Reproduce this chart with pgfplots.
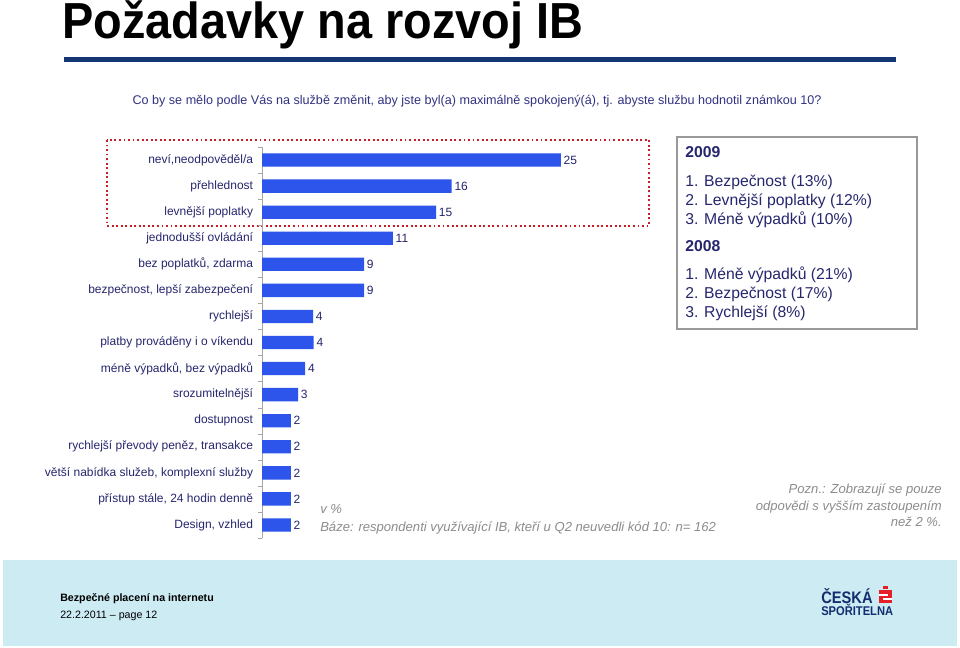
\documentclass[border=0pt]{standalone}
\usepackage{pgfplots}
\usepackage{pgfplotstable}
\pgfplotsset{compat=1.18}
\usepackage{fontspec}
\setmainfont{Liberation Sans}
\definecolor{navy}{RGB}{38,38,110}
\definecolor{subcol}{RGB}{50,50,130}
\definecolor{barblue}{RGB}{45,85,235}
\definecolor{rulecol}{RGB}{20,55,115}
\definecolor{footbg}{RGB}{204,235,243}
\definecolor{redbox}{RGB}{200,30,40}
\definecolor{logonavy}{RGB}{20,45,110}
\definecolor{logored}{RGB}{230,30,40}
\definecolor{notegray}{RGB}{140,140,140}

\pgfplotstableread{
y x lab
0 24.9 25
1 15.8 16
2 14.5 15
3 10.9 11
4 8.5 9
5 8.5 9
6 4.25 4
7 4.3 4
8 3.6 4
9 3.0 3
10 2.4 2
11 2.4 2
12 2.4 2
13 2.4 2
14 2.4 2
}\datatable

\begin{document}
\begin{tikzpicture}
\begin{scope}[x=0.75pt,y=-0.75pt]
\useasboundingbox (0,0) rectangle (960,648);
\fill[white] (0,0) rectangle (960,648);
% title
\node[anchor=base west, inner sep=0, font=\fontsize{38}{44}\selectfont\bfseries] at (62,39) {\scalebox{0.925}[1]{Požadavky na rozvoj IB}};
\fill[rulecol] (64,57) rectangle (896,62);
\node[anchor=base, inner sep=0, text=subcol, font=\fontsize{9.45}{11}\selectfont] at (477,105) {Co by se mělo podle Vás na službě změnit, aby jste byl(a) maximálně spokojený(á), tj. abyste službu hodnotil známkou 10?};
% red dotted box
\draw[redbox, line width=1.4pt, dotted] (107,140) rectangle (649,226);
% legend box
\draw[gray!80, line width=0.8pt] (677,137) rectangle (917,329);
\begin{scope}[every node/.style={anchor=base west, inner sep=0, text=navy, font=\fontsize{11.8}{14}\selectfont}]
\node[font=\fontsize{11.8}{14}\selectfont\bfseries] at (685,158) {2009};
\node at (685,187) {1. Bezpečnost (13\%)};
\node at (685,206) {2. Levnější poplatky (12\%)};
\node at (685,225) {3. Méně výpadků (10\%)};
\node[font=\fontsize{11.8}{14}\selectfont\bfseries] at (685,252) {2008};
\node at (685,280) {1. Méně výpadků (21\%)};
\node at (685,299) {2. Bezpečnost (17\%)};
\node at (685,318) {3. Rychlejší (8\%)};
\end{scope}
% notes
\begin{scope}[every node/.style={inner sep=0, text=notegray, font=\fontsize{9.8}{11}\selectfont\itshape}]
\node[anchor=base west] at (320,513) {v \%};
\node[anchor=base west] at (320,531) {Báze: respondenti využívající IB, kteří u Q2 neuvedli kód 10: n= 162};
\node[anchor=base east] at (942,493) {Pozn.: Zobrazují se pouze};
\node[anchor=base east] at (942,510) {odpovědi s vyšším zastoupením};
\node[anchor=base east] at (942,526) {než 2 \%.};
\end{scope}
% footer
\fill[footbg] (3,560) rectangle (957,646);
\node[anchor=base west, inner sep=0, font=\fontsize{8}{10}\selectfont\bfseries] at (60,601) {Bezpečné placení na internetu};
\node[anchor=base west, inner sep=0, font=\fontsize{8}{10}\selectfont] at (60,618) {22.2.2011 – page 12};
\node[anchor=base west, inner sep=0, text=logonavy, font=\fontsize{12.5}{14}\selectfont\bfseries] at (821,603) {\scalebox{0.88}[1]{ČESKÁ}};
\node[anchor=base west, inner sep=0, text=logonavy, font=\fontsize{9.5}{12}\selectfont\bfseries] at (821,615) {\scalebox{0.88}[1]{SPOŘITELNA}};
\fill[logored] (883,586) rectangle (888,589);
\fill[logored] (879,590) rectangle (892,603);
\fill[white] (879,594) rectangle (888,595.6);
\fill[white] (883,598) rectangle (892,599.6);
\end{scope}
\begin{axis}[
  at={(196.5pt,-403.5pt)}, anchor=south west,
  scale only axis, width=225pt, height=293.25pt,
  xmin=0, xmax=25, ymin=-0.5, ymax=14.5, y dir=reverse,
  axis x line=none, axis y line=left,
  axis line style={-, draw=gray!70},
  xbar, bar width=10pt,
  ytick={0,...,14},
  yticklabels={{neví,neodpověděl/a},přehlednost,levnější poplatky,jednodušší ovládání,{bez poplatků, zdarma},{bezpečnost, lepší zabezpečení},rychlejší,platby prováděny i o víkendu,{méně výpadků, bez výpadků},srozumitelnější,dostupnost,{rychlejší převody peněz, transakce},{větší nabídka služeb, komplexní služby},{přístup stále, 24 hodin denně},{Design, vzhled}},
  major tick length=0pt,
  minor ytick={-0.5,0.5,...,14.5},
  minor tick length=3pt, tick align=outside,
  minor tick style={draw=gray!70},
  yticklabel style={font=\fontsize{9}{10}\selectfont, text=navy, inner sep=0pt, xshift=-6.5pt},
  point meta=explicit symbolic,
  nodes near coords,
  nodes near coords align=horizontal,
  every node near coord/.append style={font=\fontsize{9}{10}\selectfont, text=navy, inner sep=2pt, anchor=west},
  clip=false,
]
\addplot[fill=barblue, draw=none] table[x=x, y=y, meta=lab] {\datatable};
\end{axis}
\end{tikzpicture}
\end{document}
